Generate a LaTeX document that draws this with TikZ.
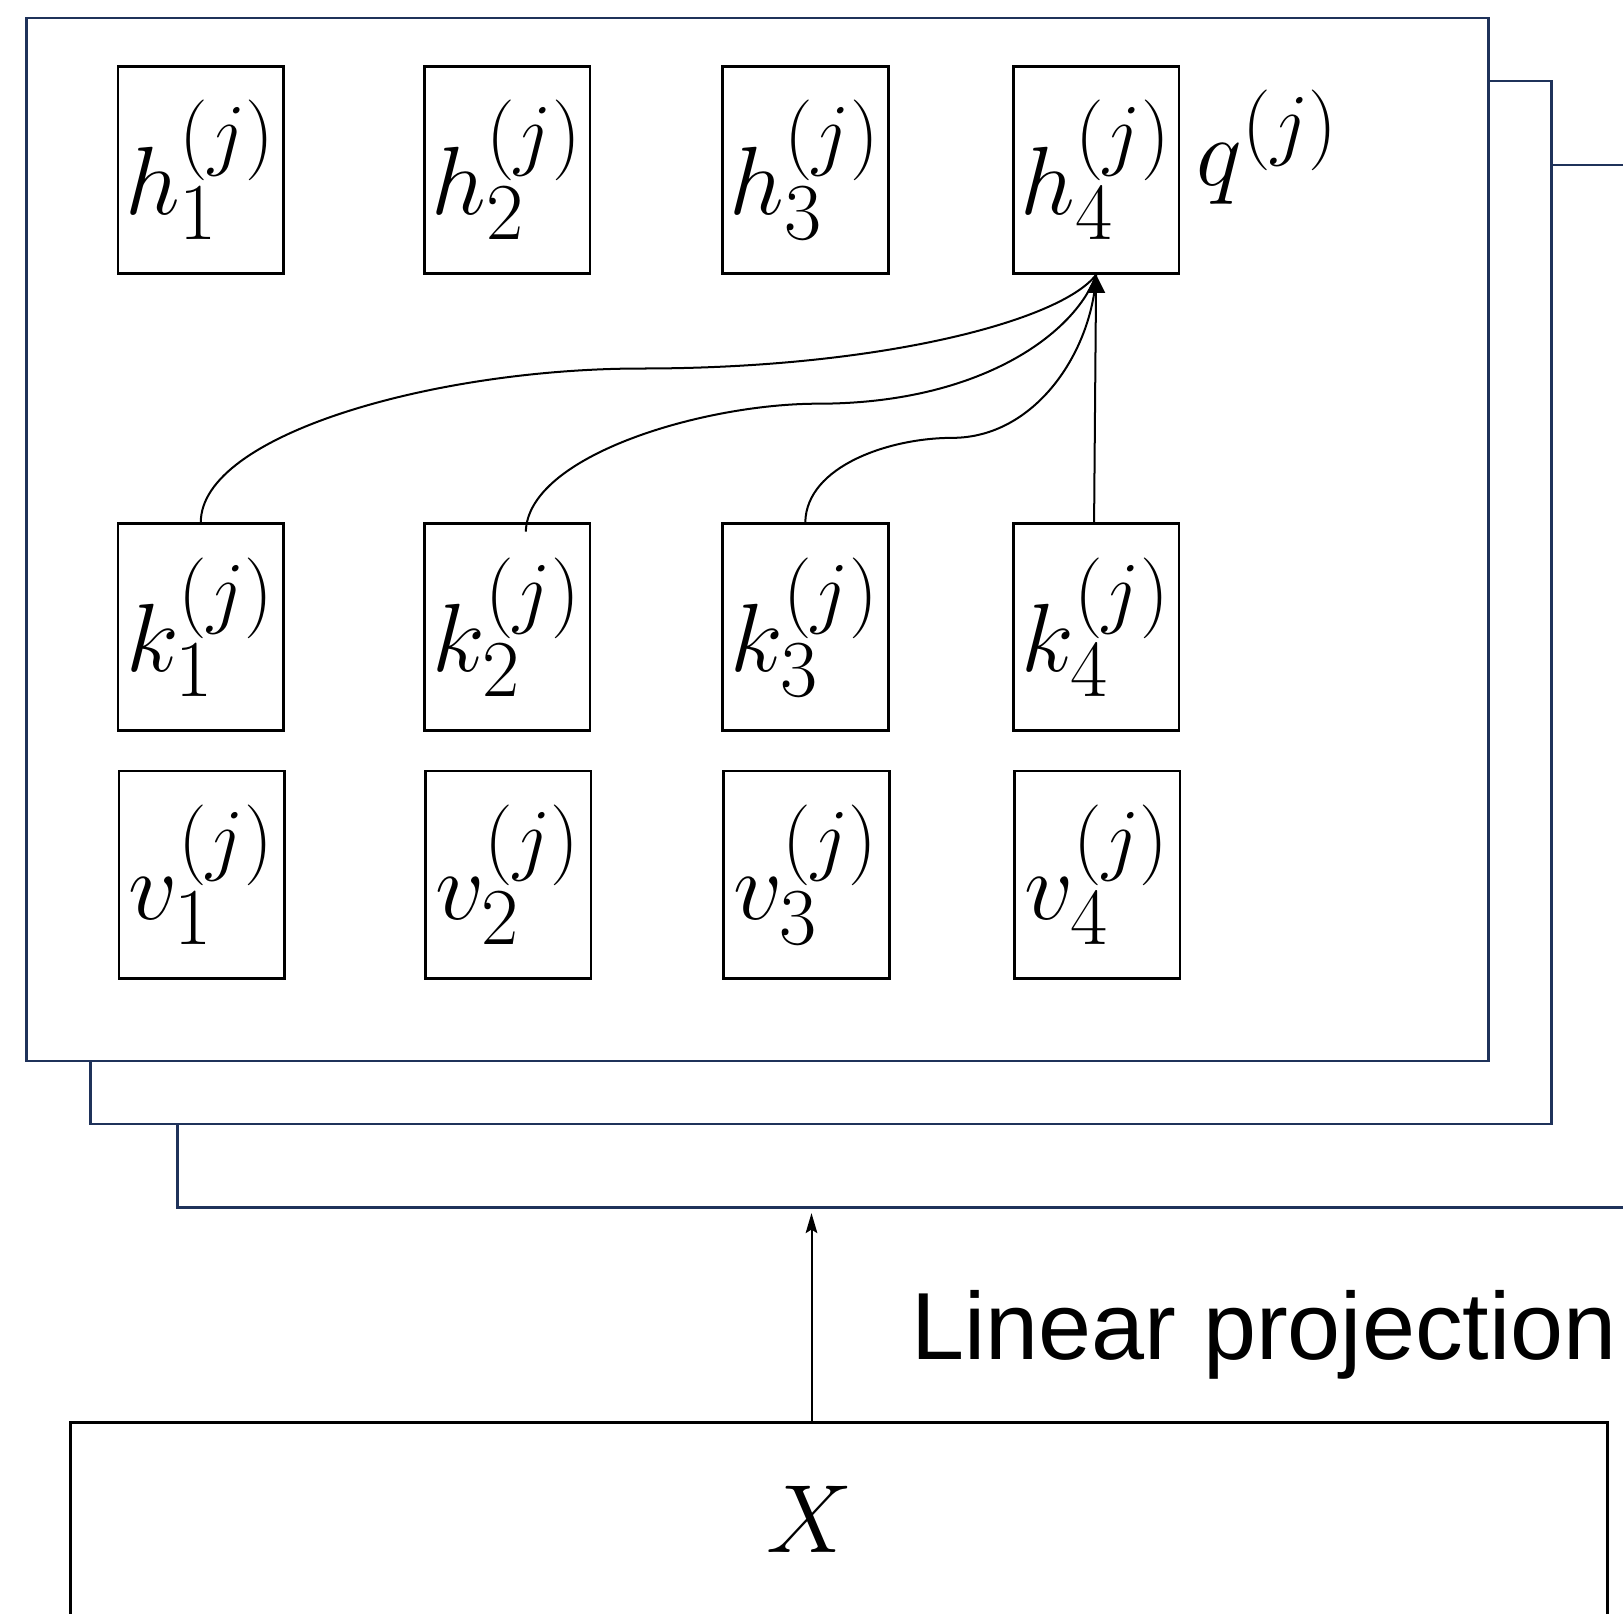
\documentclass[tikz,border=0pt]{standalone}
\usepackage{fontspec}
\newfontfamily\arialf{Liberation Sans}
\usetikzlibrary{arrows.meta,calc}
\definecolor{navy}{RGB}{31,50,90}
\newcommand\cellab[2]{\scalebox{1.07}{$#1^{(j)}_{\lower3pt\hbox{$\scriptstyle #2$}}$}}
\begin{document}
\begin{tikzpicture}[x=0.01cm,y=-0.01cm,
  frame/.style={draw=navy,line width=0.75pt,fill=white,inner sep=0pt,anchor=north west,minimum height=10.07cm},
  cell/.style={draw=black,line width=0.75pt,minimum width=1.6cm,minimum height=2cm,inner sep=0pt,font=\Huge},
  lbl/.style={inner sep=0pt,font=\Huge},
  link/.style={line width=0.55pt},
  headA/.style={-{Triangle[width=5pt,length=5pt]}},
  headB/.style={-{Stealth[width=3.2pt,length=5.5pt,inset=1pt]}},
]
\useasboundingbox (0,0) rectangle (1568,1559);
\clip (0,0) rectangle (1568,1559);
% stacked frames (back to front)
\node[frame,minimum width=16cm] (f3) at (170,158) {};
\node[frame,minimum width=14.11cm] (f2) at (86,77) {};
\node[frame,minimum width=14.12cm] (f1) at (24,16) {};
% h row
\node[cell] (h1) at (194,164) {\cellab{h}{1}};
\node[cell] (h2) at (490,164) {\cellab{h}{2}};
\node[cell] (h3) at (778,164) {\cellab{h}{3}};
\node[cell] (h4) at (1059,164) {\cellab{h}{4}};
\node[lbl] (q) at (1225,142) {\scalebox{1.07}{$q^{(j)}$}};
% k row
\node[cell] (k1) at (194,606) {\cellab{k}{1}};
\node[cell] (k2) at (490,606) {\cellab{k}{2}};
\node[cell] (k3) at (778,606) {\cellab{k}{3}};
\node[cell] (k4) at (1059,606) {\cellab{k}{4}};
% v row
\node[cell] (v1) at (195,845) {\cellab{v}{1}};
\node[cell] (v2) at (491,845) {\cellab{v}{2}};
\node[cell] (v3) at (779,845) {\cellab{v}{3}};
\node[cell] (v4) at (1060,845) {\cellab{v}{4}};
% connectors k -> h4
\draw[link] (k1.north) .. controls (194,420) and (420,356) .. (620,356)
  .. controls (850,356) and (1025,310) .. (h4.south);
\draw[link] ($(k2.north)+(18,9)$) .. controls (510,440) and (680,390) .. (790,390)
  .. controls (950,390) and (1040,320) .. (h4.south);
\draw[link] (k3.north) .. controls (779,450) and (860,423) .. (920,423)
  .. controls (1000,423) and (1055,340) .. (h4.south);
\draw[link,headA] ($(k4.north)+(-2,2)$) -- ($(h4.south)+(-1,120)$) -- (h4.south);
% input
\node[draw=black,line width=0.75pt,anchor=north west,minimum width=14.84cm,minimum height=4cm,inner sep=0pt] (xbox) at (67,1373) {};
\node[lbl] (xl) at (782,1468) {\scalebox{1.07}{$X$}};
\coordinate (ptop) at (784,1172);
\draw[link,headB] (xbox.north -| ptop) -- (ptop);
\node[inner sep=0pt,anchor=base west,font=\arialf\fontsize{26.2}{30}\selectfont] (lp) at (880,1313) {Linear projection};
\end{tikzpicture}
\end{document}
